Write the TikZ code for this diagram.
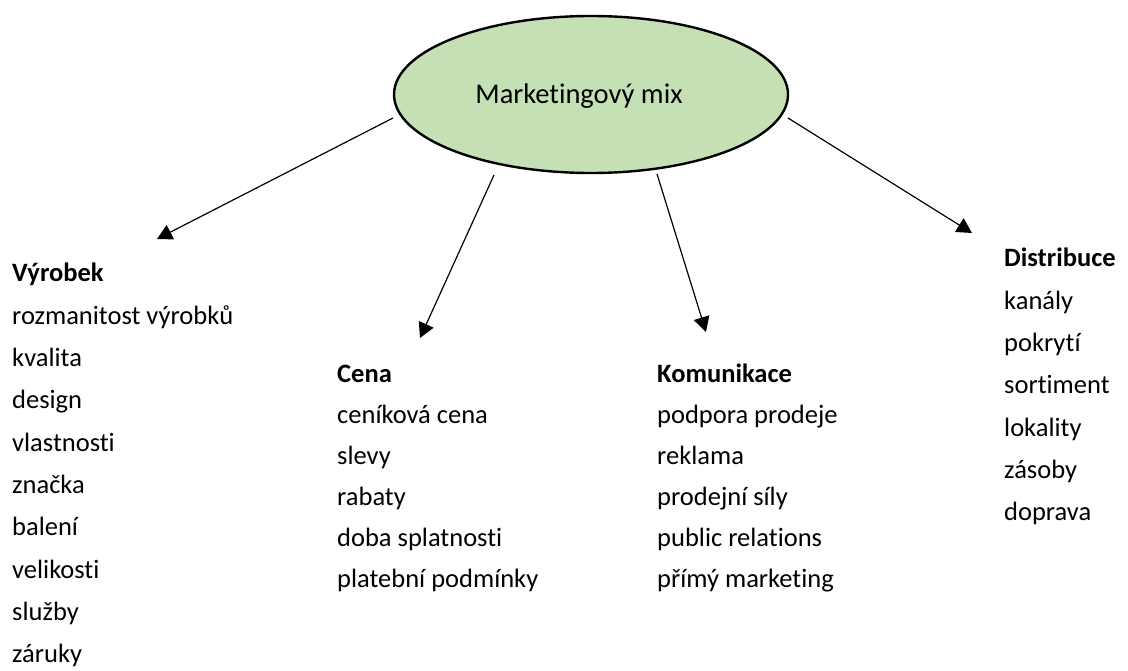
\documentclass[tikz,border=0pt]{standalone}
\usepackage{fontspec}
\setmainfont{Carlito}[Ligatures=NoCommon]
\usepackage{xcolor}
\usetikzlibrary{arrows.meta,shapes.geometric}
\definecolor{mixgreen}{HTML}{C5E0B4}

\newcommand{\mixsize}{\fontsize{26.5}{30}\selectfont}
\tikzset{
	mixbox/.style={ellipse,draw=black,line width=2.4pt,fill=mixgreen,
		minimum width=394pt,minimum height=157pt,inner sep=0pt,
		text height=19pt,text depth=0pt,
		font=\fontsize{28.5}{30}\selectfont},
	head/.style={anchor=base west,inner sep=0pt,font=\mixsize\bfseries},
	item/.style={anchor=base west,inner sep=0pt,font=\mixsize},
	arr/.style={line width=1.2pt,-{Triangle[length=15pt,width=16pt]}}
}

\begin{document}
\begin{tikzpicture}[x=1pt,y=-1pt]
	\useasboundingbox (0,0) rectangle (1128,671);
	\node[mixbox] (mix) at (591,94.5) {\hspace*{-24pt}Marketingový mix};

	% headings
	\node[head] (vyrobek) at (12,282) {Výrobek};
	\node[head] (cena) at (337,382) {Cena};
	\node[head] (komunikace) at (657,382) {Komunikace};
	\node[head] (distribuce) at (1004,267) {Distribuce};

	% lists
	\foreach \t [count=\i] in {rozmanitost výrobků,kvalita,design,vlastnosti,
		značka,balení,velikosti,služby,záruky}
		\node[item] (vyrobek-\i) at (12,{282+42.3*\i}) {\t};
	\foreach \t [count=\i] in {ceníková cena,slevy,rabaty,doba splatnosti,
		platební podmínky}
		\node[item] (cena-\i) at (337,{382+41*\i}) {\t};
	\foreach \t [count=\i] in {podpora prodeje,reklama,prodejní síly,
		public relations,přímý marketing}
		\node[item] (komunikace-\i) at (657,{382+41*\i}) {\t};
	\foreach \t [count=\i] in {kanály,pokrytí,sortiment,lokality,zásoby,doprava}
		\node[item] (distribuce-\i) at (1004,{267+42.3*\i}) {\t};

	% arrows
	\coordinate (v-from) at (393,118);
	\coordinate (v-to) at (157,239);
	\coordinate (c-from) at (494,175);
	\coordinate (c-to) at (420,338);
	\coordinate (k-from) at (657,174);
	\coordinate (k-to) at (706,332);
	\coordinate (d-from) at (788,118);
	\coordinate (d-to) at (972,233);
	\draw[arr] (v-from) -- (v-to);
	\draw[arr] (c-from) -- (c-to);
	\draw[arr] (k-from) -- (k-to);
	\draw[arr] (d-from) -- (d-to);
\end{tikzpicture}
\end{document}
